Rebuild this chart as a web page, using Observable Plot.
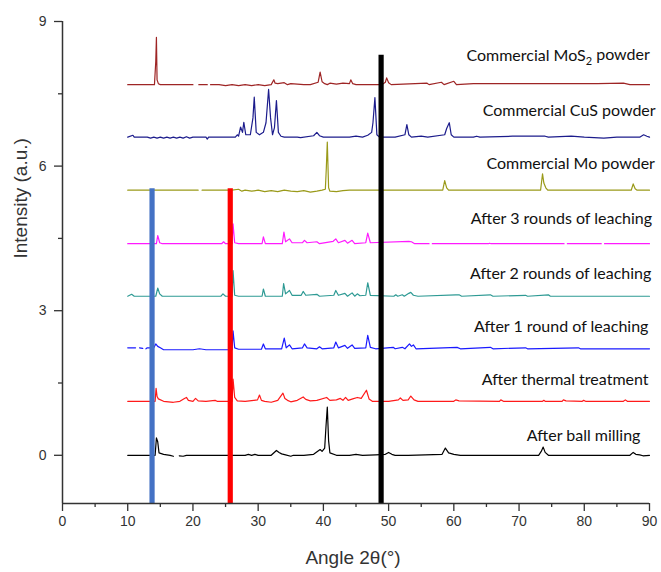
<!DOCTYPE html>
<html>
<head>
<meta charset="utf-8">
<script src="https://cdn.jsdelivr.net/npm/d3@7"></script>
<script src="https://cdn.jsdelivr.net/npm/@observablehq/plot@0.6"></script>
<style>
  html, body { margin: 0; padding: 0; background: #fff; }
  #chart svg { display: block; }
</style>
</head>
<body>
<div id="chart"></div>
<script>
// ---- Data ----
const seriesNames = [
  "After ball milling",
  "After thermal treatment",
  "After 1 round of leaching",
  "After 2 rounds of leaching",
  "After 3 rounds of leaching",
  "Commercial Mo powder",
  "Commercial CuS powder",
  "Commercial MoS2 powder"
];
// vertical offset of each pattern (a.u.)
const offsets = [0, 1.12, 2.21, 3.30, 4.39, 5.50, 6.60, 7.69];

// [angle 2θ, intensity above own baseline]; null = gap in the trace
const ballMilling = [[10,0],[14.2,0],[14.4,0.36],[14.6,0.28],[14.8,0.05],[15.5,0.02],[16.5,0],[17,-0.02],[17.6,null],[17.9,-0.01],[18.5,-0.02],[19,0],[20,0],[28,0],[28.5,0.02],[29,0],[29.5,0.02],[30,0],[32,0],[32.8,0.1],[33.2,0.06],[33.6,0.03],[34.2,0.01],[35,-0.02],[35.4,0],[37,0],[38.5,0.02],[39.5,0.12],[39.8,0.08],[40.2,0.15],[40.4,0.6],[40.6,1.0],[40.8,0.3],[41,0.05],[42,0],[44,0],[45,0.02],[46,0],[48,0.01],[49.5,0.02],[50,0.06],[50.5,0.02],[51,0],[53,0],[58.2,0.02],[58.7,0.15],[59.2,0.05],[60,0.02],[61,0],[73,0],[73.4,0.08],[73.7,0.17],[74,0.06],[74.5,0],[87,0],[87.5,0.06],[87.9,0.02],[88.5,0.01],[89,-0.01],[90,0]];
const thermal = [[10,0],[14.2,0],[14.35,0.27],[14.5,0.1],[14.7,0.05],[15.5,0],[17,-0.02],[18,0],[18.7,0.06],[19,0.08],[19.3,0.02],[20,0],[20.4,0.06],[20.8,0.01],[22,0],[23.4,0.02],[23.7,0],[26,0],[26.15,0.46],[26.4,0.08],[26.8,0.01],[28,0],[29.9,0.03],[30.2,0.13],[30.5,0.02],[31,0],[32,-0.02],[33,0.02],[33.8,0.17],[34.1,0.06],[34.5,0.02],[35,-0.01],[36,0.02],[36.9,0.09],[37.3,0.04],[38,0.01],[39,0.02],[40.5,0.08],[41,0.02],[42,0.03],[42.6,0.06],[43,0.02],[43.4,0.08],[43.8,0.02],[44.5,0.05],[45.2,0.08],[45.8,0.06],[46.6,0.23],[47,0.05],[47.5,0],[50,0],[51.5,0.03],[51.8,0.07],[52.2,0.02],[53,0.03],[53.4,0.11],[53.9,0.03],[54.5,0],[60,0],[60.3,0.03],[60.8,0.01],[67,0],[67.2,0.03],[67.6,0],[73.6,0],[73.8,0.02],[74,0],[76.6,0],[76.8,0.03],[77.2,0.01],[79.7,0],[79.9,0.02],[80.2,0],[86,0],[86.3,0.03],[86.6,0],[90,0]];
const round1 = [[10,0.02],[11.2,0.02],[11.3,null],[11.8,0.02],[12.3,0.01],[12.5,null],[12.8,0],[13,0.02],[14,0.02],[14.3,0.1],[14.6,0.05],[15,0.02],[15.5,-0.02],[20,-0.02],[21,0],[22,-0.02],[26,-0.02],[26.15,0.37],[26.4,0.02],[27,-0.01],[30.5,-0.01],[30.8,0.1],[31.1,0],[33.6,0],[34,0.22],[34.3,0.02],[34.8,0.08],[35.2,0],[36.8,0.02],[37.1,0.1],[37.5,0.02],[39,0],[39.4,0.04],[39.8,0],[41.6,0.02],[41.9,0.14],[42.3,0.02],[43.3,0.07],[43.7,0.01],[44.4,0.08],[44.8,0.01],[46.5,0.02],[46.8,0.28],[47.2,0.03],[48,0],[50.7,0.03],[51,0],[52.1,0.03],[52.5,0],[53.2,0.1],[53.5,0.05],[53.8,0.08],[54.2,0],[60.5,0.03],[61,0],[65.6,0.03],[66,0],[71,0.02],[71.3,0],[79.1,0.02],[79.4,0],[90,0]];
const round2 = [[10,0],[10.6,0.04],[11,0],[14.3,0],[14.6,0.17],[14.9,0.05],[15.3,0],[24.3,0],[24.6,0.05],[25,0],[26,0],[26.15,0.53],[26.4,0.02],[27,0],[30.6,0],[30.8,0.15],[31.1,0],[33.7,0],[33.9,0.26],[34.2,0.05],[34.8,0.12],[35.2,0.02],[36.6,0.02],[36.9,0.1],[37.3,0.02],[39,0.04],[39.4,0],[41.6,0.02],[41.9,0.12],[42.3,0.02],[43.3,0.06],[43.7,0],[44.4,0.07],[44.8,0],[45.2,0.05],[45.6,0.01],[46.5,0.02],[46.8,0.28],[47.2,0.02],[50.8,0],[51.1,0.03],[51.4,0],[52.1,0.03],[52.4,0],[53.1,0.06],[53.4,0.08],[53.8,0.02],[54.5,0],[60.3,0.03],[60.8,0.03],[61.2,0],[65.6,0.03],[66,0],[71,0.02],[71.3,0],[74.5,0.03],[74.8,0],[90,0]];
const round3 = [[10,0],[14.4,0],[14.6,0.17],[14.9,0.02],[15.3,0],[24.4,0],[24.7,0.04],[25,0],[26,0],[26.15,0.41],[26.4,0.02],[27,0],[30.6,0],[30.8,0.14],[31.1,0],[33.7,0],[33.95,0.24],[34.2,0.04],[34.8,0.1],[35.2,0.02],[36.8,0.02],[37.1,0.07],[37.5,0.02],[39,0.04],[39.4,0],[41.5,0.05],[41.9,0.1],[42.3,0.02],[43.3,0.07],[43.7,0.01],[44.4,0.07],[44.8,0],[46.5,0.02],[46.8,0.22],[47.2,0.02],[53.1,0.05],[53.5,0.04],[54,0],[56.2,0],[56.4,null],[56.7,0],[65.3,0],[65.5,0.01],[65.7,0],[76.9,0],[77.1,null],[77.4,0],[82.6,0],[82.8,null],[83.1,0],[90,0]];
const moPowder = [[10,0],[20.8,0],[21,null],[21.4,0],[25.5,0],[26,0],[27,0.02],[27.5,-0.02],[28,0],[29,-0.02],[30,0],[31,-0.03],[32,-0.01],[33,-0.03],[34,0],[35,-0.02],[36,-0.03],[37,-0.01],[38,-0.04],[39,-0.02],[39.8,0],[40.3,0.02],[40.45,0.46],[40.6,1.0],[40.8,0.05],[41,-0.02],[42,-0.03],[43,-0.01],[44,0],[58.3,0],[58.6,0.2],[58.9,0.05],[59.2,0],[73.3,0],[73.6,0.34],[73.8,0.15],[74.1,0.05],[74.4,0],[87.2,0],[87.5,0.13],[87.8,0.03],[88.1,0],[90,0]];
const cusPowder = [[10,0],[10.8,0.04],[11,0],[13,0],[13.5,-0.02],[14,0],[14.5,-0.02],[15,0],[15.5,-0.02],[16,0],[16.5,-0.02],[17,0],[17.5,-0.02],[18,0],[18.5,-0.02],[19,0.01],[19.5,-0.02],[20,0],[22,0],[22.2,-0.04],[22.4,0],[26.5,0],[26.8,0.05],[27,0.02],[27.3,0.21],[27.6,0.1],[27.8,0.31],[28.1,0.05],[28.8,0.05],[29.2,0.4],[29.4,0.83],[29.7,0.1],[30.2,0.05],[30.8,0.1],[31.2,0.3],[31.6,0.99],[31.9,0.4],[32.2,0.05],[32.5,0.2],[32.8,0.76],[33.1,0.1],[33.5,0.02],[34,0],[36,0],[36.5,-0.01],[38.5,0.03],[39,0.1],[39.4,0.03],[40,0],[44,0],[45,0.02],[46,0],[46.8,0.04],[47.4,0.1],[47.6,0.3],[47.9,0.82],[48.2,0.05],[48.6,0],[51,0],[52.5,0.05],[52.8,0.26],[53.1,0.05],[53.5,0],[55,0.02],[56,0],[58.6,0.05],[58.9,0.18],[59.3,0.3],[59.6,0.05],[60,0],[63,0],[63.5,0.02],[64,0],[69,0.02],[74,0.02],[74.5,0],[78,0.02],[80,0],[83,-0.02],[85,0],[88.5,0],[89.1,0.05],[89.6,0.02],[90,0]];
const mos2Powder = [[10,0],[14.1,0],[14.3,0.48],[14.4,0.98],[14.5,0.1],[14.7,0.02],[15,0],[20,0],[20.1,null],[20.9,0],[22.2,0],[22.3,null],[22.7,0],[24,0],[25,-0.02],[26,0],[27,-0.02],[28,0],[29,-0.02],[30,0],[31,-0.02],[32,0],[32.4,0.1],[32.6,0.03],[33,0.02],[34,0.04],[34.5,0],[35,0.02],[36,0.01],[37,0],[38,0],[39.2,0.05],[39.5,0.26],[39.8,0.06],[40.2,0.02],[40.6,0],[41,0.03],[42,0.01],[43,0.03],[44,0.02],[44.2,0.1],[44.5,0.02],[45,0],[49,0],[49.5,0.05],[49.7,0.14],[50,0.04],[50.4,0],[55.9,0.03],[56.2,0],[58.1,0.05],[58.5,0],[60,0.07],[60.4,0],[63,0.02],[66,0.02],[70,0.02],[75,0.02],[78,0.02],[82,0.02],[86,0.03],[87,0],[90,0]];
const patterns = [ballMilling, thermal, round1, round2, round3, moPowder, cusPowder, mos2Powder];

// reference lines (2θ) and their top (a.u.)
const markerAngles = [13.73, 25.72, 48.85];
const markerTops = [5.53, 5.53, 8.3];

// axis ticks
const xTicks = [0, 10, 20, 30, 40, 50, 60, 70, 80, 90];
const xMinorTicks = [5, 15, 25, 35, 45, 55, 65, 75, 85];
const yTicks = [0, 3, 6, 9];
const yMinorTicks = [1.5, 4.5, 7.5];

// ---- styling / layout (not data) ----
const seriesColors = ["#000000", "#ff1a1a", "#1a1aff", "#2e9a94", "#ff1aff", "#9a9a1a", "#1c1c8c", "#9e2525"];
const markerColors = ["#4472c4", "#ff0000", "#000000"];
const labelX = [79.9, 77.07, 76.46, 76.38, 76.5, 77.91, 77.68, 75.99];
const labelY = [0.41, 1.56, 2.66, 3.76, 4.90, 6.04, 7.14, 8.28];

// ---- build table ----
const table = [];
patterns.forEach((pts, i) => {
  pts.forEach(([x, v]) => {
    table.push({series: seriesNames[i], x, y: v == null ? NaN : v + offsets[i]});
  });
});
const markers = markerAngles.map((x, i) => ({x, top: markerTops[i], color: markerColors[i]}));
const labels = seriesNames.map((name, i) => ({name, x: labelX[i], y: labelY[i]}));

const axisColor = "#333333";
const chart = Plot.plot({
  width: 661,
  height: 572,
  marginLeft: 62,
  marginRight: 12,
  marginTop: 21,
  marginBottom: 69,
  style: {fontFamily: "'Liberation Sans', Arial, sans-serif", background: "#fff", overflow: "visible"},
  x: {domain: [0, 90]},
  y: {domain: [-1, 9]},
  color: {domain: seriesNames, range: seriesColors},
  marks: [
    Plot.line(table, {x: "x", y: "y", z: "series", stroke: "series", strokeWidth: 1.2, curve: "linear"}),
    Plot.ruleX(markers, {x: "x", y1: -1, y2: "top", stroke: "color", strokeWidth: 5.2}),
    // axes lines
    Plot.ruleY([-1], {x1: 0, x2: 90, stroke: axisColor, strokeWidth: 1.5}),
    Plot.ruleX([0], {y1: -1, y2: 9, stroke: axisColor, strokeWidth: 1.5}),
    Plot.axisX({ticks: xTicks, tickSize: 8, tickPadding: 5, fontSize: 14, color: axisColor, strokeWidth: 1.3, label: null}),
    Plot.axisX({ticks: xMinorTicks, tickSize: 4, tickFormat: () => "", color: axisColor, strokeWidth: 1.3, label: null}),
    Plot.axisY({ticks: yTicks, tickSize: 8, tickPadding: 8, fontSize: 14, color: axisColor, strokeWidth: 1.3, label: null}),
    Plot.axisY({ticks: yMinorTicks, tickSize: 4, tickFormat: () => "", color: axisColor, strokeWidth: 1.3, label: null}),
    // axis titles
    Plot.text(["Angle 2θ(°)"], {frameAnchor: "bottom", dx: -3, dy: 54, text: d => d, fontSize: 19, fill: axisColor, lineAnchor: "middle"}),
    Plot.text(["Intensity (a.u.)"], {frameAnchor: "left", dx: -42, dy: -4, rotate: -90, text: d => d, fontSize: 19, fill: axisColor, lineAnchor: "middle"}),
    // series labels
    Plot.text(labels, {x: "x", y: "y", text: "name", textAnchor: "middle", lineAnchor: "middle", fontSize: 16, fill: "#111", fontFamily: "Lato, 'Open Sans', sans-serif"})
  ]
});
document.getElementById("chart").appendChild(chart);

// subscript for MoS2
d3.select(chart).selectAll("text").each(function() {
  if (this.textContent === "Commercial MoS2 powder") {
    const t = d3.select(this);
    t.text(null);
    t.append("tspan").text("Commercial MoS");
    t.append("tspan").attr("dy", "0.3em").attr("font-size", "11").text("2");
    t.append("tspan").attr("dy", "-0.3em").text(" powder");
  }
});
</script>
</body>
</html>
